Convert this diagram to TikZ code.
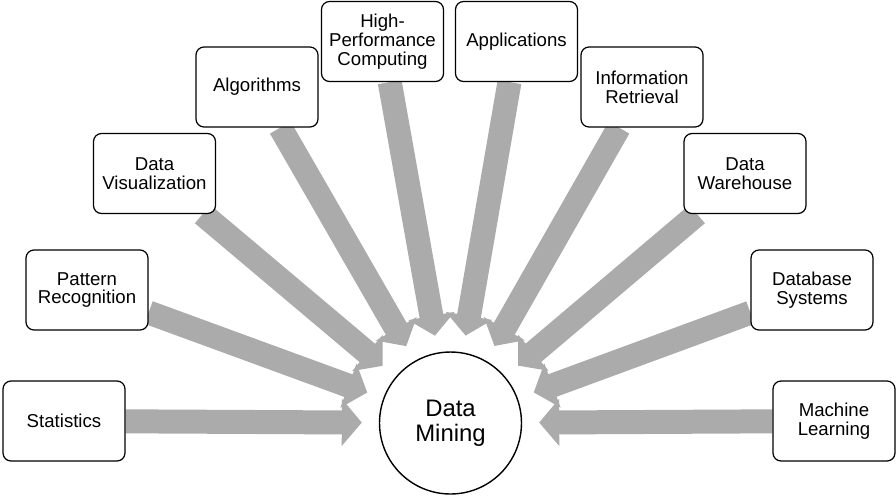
\documentclass[tikz,border=0pt]{standalone}
\usepackage{fontspec}
\setmainfont{Liberation Sans}
\usepackage{xcolor}
\usetikzlibrary{positioning, backgrounds, arrows.meta}
\definecolor{flowgray}{HTML}{ABABAB}

\begin{document}
\begin{tikzpicture}[
    x=0.02cm, y=-0.02cm,
    topic/.style={rectangle, rounded corners=0.16cm, draw, line width=0.7pt, fill=white, align=center, minimum width=2.44cm, minimum height=1.6cm, inner sep=1pt, font=\fontsize{10.6pt}{10.7pt}\selectfont},
    core/.style={circle, draw, line width=0.8pt, fill=white, align=center, minimum size=2.84cm, font=\fontsize{13.6pt}{14.4pt}\selectfont},
    flow/.style={draw=flowgray, line width=0.48cm, -{Triangle[width=0.92cm, length=0.4cm]}, shorten >=0.34cm}
]
\useasboundingbox (0,0) rectangle (896,495);
\node[core] (dm) at (450.5,423) {Data\\Mining};
\node[topic] (stat) at (64,421) {Statistics};
\node[topic] (pattern) at (87,290) {Pattern\\Recognition};
\node[topic] (visual) at (154.5,173.5) {Data\\Visualization};
\node[topic] (algo) at (257,87) {Algorithms};
\node[topic] (hpc) at (382.5,41.5) {High-\\Performance\\Computing};
\node[topic] (apps) at (516.5,41.5) {Applications};
\node[topic] (retrieval) at (642,87) {Information\\Retrieval};
\node[topic] (warehouse) at (745,173.5) {Data\\Warehouse};
\node[topic] (dbsys) at (812,290) {Database\\Systems};
\node[topic] (ml) at (834,421) {Machine\\Learning};

\begin{scope}[on background layer]
\foreach \src in {stat, pattern, visual, algo, hpc, apps, retrieval, warehouse, dbsys, ml}
    \draw[flow] (\src) -- (dm);
\end{scope}
\end{tikzpicture}
\end{document}
